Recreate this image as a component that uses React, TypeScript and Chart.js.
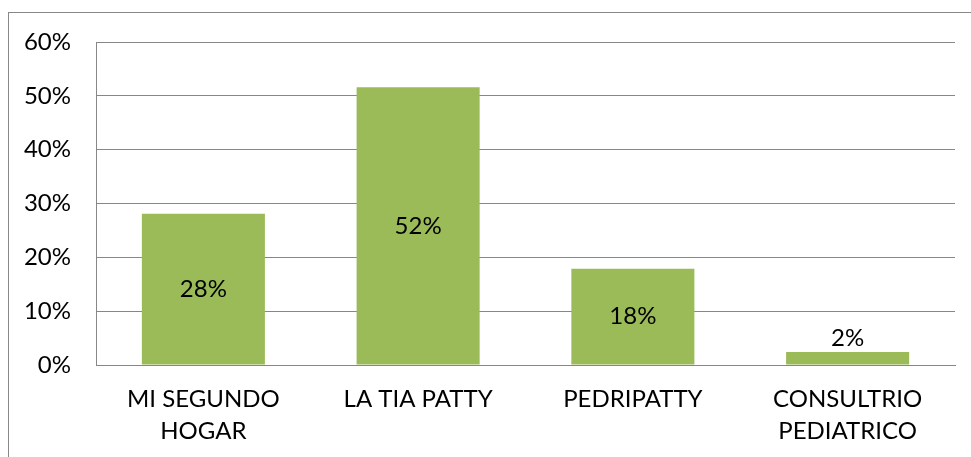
import React, { useEffect, useRef } from "react";
import { Chart, registerables } from "chart.js";

Chart.register(...registerables);

const categories: (string | string[])[] = [
  ["MI SEGUNDO", "HOGAR"],
  "LA TIA PATTY",
  "PEDRIPATTY",
  ["CONSULTRIO", "PEDIATRICO"],
];
const values: number[] = [28.1, 51.6, 17.9, 2.4];
const labels: string[] = ["28%", "52%", "18%", "2%"];
const yTicks: number[] = [0, 10, 20, 30, 40, 50, 60];

const FONT = "Lato, 'Open Sans', sans-serif";
const FONT_SIZE = 24;
const GRID = "#878787";

const borderPlugin = {
  id: "outerBorder",
  beforeDraw(chart: any) {
    const ctx = chart.ctx;
    ctx.save();
    ctx.strokeStyle = GRID;
    ctx.lineWidth = 1;
    ctx.strokeRect(8.5, 12.5, chart.width + 10, chart.height + 10);
    ctx.restore();
  },
};

const labelPlugin = {
  id: "barLabels",
  afterDatasetsDraw(chart: any) {
    const ctx = chart.ctx;
    const meta = chart.getDatasetMeta(0);
    ctx.save();
    ctx.fillStyle = "#000";
    ctx.font = `${FONT_SIZE}px ${FONT}`;
    ctx.textAlign = "center";
    ctx.textBaseline = "middle";
    meta.data.forEach((bar: any, i: number) => {
      const v = values[i];
      const y = v >= 5 ? (bar.y + bar.base) / 2 : bar.y - 14;
      ctx.fillText(labels[i], bar.x, y);
    });
    ctx.restore();
  },
};

export default function App() {
  const ref = useRef<HTMLCanvasElement | null>(null);
  useEffect(() => {
    if (!ref.current) return;
    const chart = new Chart(ref.current, {
      type: "bar",
      data: {
        labels: categories as any,
        datasets: [
          {
            data: values,
            backgroundColor: "#9BBB59",
            borderWidth: 0,
            categoryPercentage: 1,
            barPercentage: 0.573,
          },
        ],
      },
      options: {
        animation: false,
        responsive: false,
        maintainAspectRatio: false,
        devicePixelRatio: 1,
        layout: { padding: { left: 0, top: 42, right: 16, bottom: 0 } },
        plugins: {
          legend: { display: false },
          tooltip: { enabled: false },
        },
        scales: {
          x: {
            grid: { display: false, drawTicks: false },
            border: { display: true, color: GRID, width: 1 },
            ticks: {
              color: "#000",
              font: { family: FONT, size: FONT_SIZE, lineHeight: 1.3 },
              padding: 19,
              maxRotation: 0,
              autoSkip: false,
            },
            afterFit(scale: any) {
              scale.height = 92;
            },
          },
          y: {
            min: 0,
            max: 60,
            afterBuildTicks(scale: any) {
              scale.ticks = yTicks.map((v) => ({ value: v }));
            },
            grid: { color: GRID, lineWidth: 1, drawTicks: false },
            border: { display: true, color: GRID, width: 1 },
            ticks: {
              color: "#000",
              font: { family: FONT, size: FONT_SIZE },
              padding: 25,
              callback: (v: any) => `${v}%`,
            },
            afterFit(scale: any) {
              scale.width = 96;
            },
          },
        },
      },
      plugins: [borderPlugin, labelPlugin],
    });
    return () => chart.destroy();
  }, []);
  return (
    <div style={{ position: "fixed", left: 0, top: 0, width: 971, height: 457, background: "#fff" }}>
      <canvas ref={ref} width={971} height={457} style={{ width: 971, height: 457, display: "block" }} />
    </div>
  );
}
